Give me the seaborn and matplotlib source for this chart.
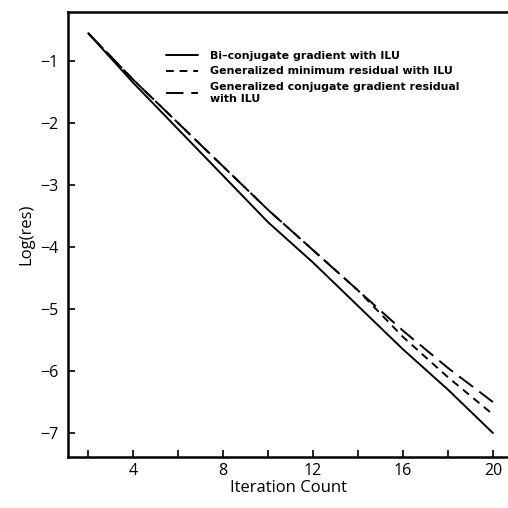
import numpy as np
import pandas as pd
import matplotlib
matplotlib.use("Agg")
import matplotlib.pyplot as plt
import seaborn as sns

sns.set_style("ticks")
plt.rcParams['font.family'] = ['Open Sans', 'DejaVu Sans']
plt.rcParams['text.color'] = 'black'
plt.rcParams['axes.labelcolor'] = 'black'

# iteration counts and log residuals
iterations = [2, 4, 6, 8, 10, 12, 14, 16, 18, 20]
bicg_ilu = [-0.55, -1.35, -2.1, -2.85, -3.6, -4.25, -4.95, -5.65, -6.3, -7.0]
gmres_ilu = [-0.55, -1.3, -2.0, -2.7, -3.4, -4.05, -4.7, -5.45, -6.1, -6.7]
gcr_ilu = [-0.55, -1.3, -2.0, -2.7, -3.4, -4.05, -4.7, -5.35, -5.95, -6.5]

labels = ["Bi\u2013conjugate gradient with ILU",
          "Generalized minimum residual with ILU",
          "Generalized conjugate gradient residual\nwith ILU"]

fig = plt.figure(figsize=(5.08, 5.08), dpi=100)
ax = fig.add_axes([0.134, 0.10, 0.866, 0.876])

sns.lineplot(x=iterations, y=bicg_ilu, color="black", lw=1.4, ax=ax,
             label=labels[0], linestyle="-")
sns.lineplot(x=iterations, y=gmres_ilu, color="black", lw=1.4, ax=ax,
             label=labels[1], linestyle=(0, (4, 3)))
sns.lineplot(x=iterations, y=gcr_ilu, color="black", lw=1.4, ax=ax,
             label=labels[2], linestyle=(0, (9, 4)))

ax.set_xlim(1.1, 20.67)
ax.set_ylim(-7.39, -0.21)
ax.set_xticks(range(2, 21, 2))
ax.set_xticklabels([str(v) if v % 4 == 0 else "" for v in range(2, 21, 2)])
ax.set_yticks(range(-7, 0))
ax.set_yticklabels(["\u22127", "\u22126", "\u22125", "\u22124", "\u22123", "\u22122", "\u22121"])
ax.tick_params(direction="in", length=5, width=1.2, labelsize=11.5, colors="black")
ax.tick_params(axis="x", pad=4)
ax.tick_params(axis="y", pad=7)

ax.set_xlabel("Iteration Count", fontsize=12, labelpad=1)
ax.set_ylabel("Log(res)", fontsize=12, labelpad=4)

for side in ["left", "bottom", "top"]:
    ax.spines[side].set_linewidth(1.8)
    ax.spines[side].set_color("black")
ax.spines["right"].set_visible(False)

leg = ax.legend(loc="upper left", bbox_to_anchor=(0.2, 0.935), frameon=False,
                handlelength=2.9, handletextpad=1.1, labelspacing=0.5,
                prop={"family": "DejaVu Sans", "weight": "bold", "size": 7.9})

fig.savefig("out.png", dpi=100, facecolor="white")
